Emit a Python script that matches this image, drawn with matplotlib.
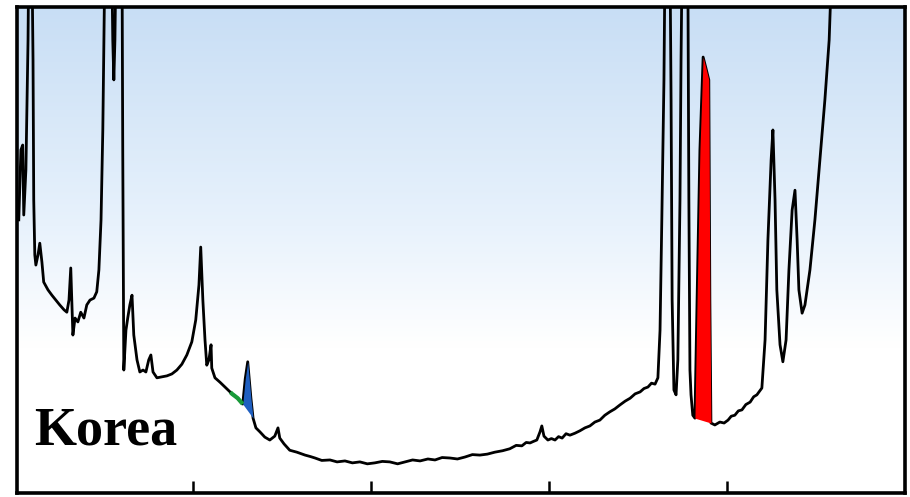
import numpy as np
import matplotlib
matplotlib.use("Agg")
import matplotlib.pyplot as plt
from matplotlib.colors import LinearSegmentedColormap

# Retention time (min) and detector signal (relative units, clipped at the top)
time_min = [
    0.11, 0.17, 0.22, 0.25, 0.31, 0.37, 0.39, 0.48, 0.51, 0.53, 0.56, 0.59, 0.65, 0.70,
    0.76, 0.81, 0.93, 1.04, 1.15, 1.26, 1.38, 1.46, 1.52, 1.57, 1.60, 1.63, 1.69, 1.77,
    1.85, 1.94, 2.02, 2.11, 2.22, 2.30, 2.36, 2.42, 2.47, 2.50, 2.53, 2.72, 2.75, 2.78,
    2.81, 2.84, 3.01, 3.03, 3.06, 3.12, 3.17, 3.23, 3.29, 3.34, 3.43, 3.51, 3.60, 3.68,
    3.76, 3.82, 3.88, 3.99, 4.13, 4.27, 4.41, 4.55, 4.69, 4.83, 4.97, 5.08, 5.17, 5.22,
    5.28, 5.34, 5.39, 5.45, 5.51, 5.53, 5.62, 5.76, 5.93, 6.10, 6.26, 6.40, 6.47, 6.54,
    6.63, 6.69, 6.77, 6.88, 7.02, 7.16, 7.30, 7.39, 7.44, 7.56, 7.72, 7.92, 8.15, 8.30,
    8.43, 8.62, 8.85, 9.05, 9.27, 9.48, 9.69, 9.90, 10.11, 10.32, 10.53, 10.75, 10.96,
    11.17, 11.38, 11.60, 11.80, 12.00, 12.22, 12.43, 12.64, 12.85, 13.06, 13.27, 13.48,
    13.70, 13.90, 14.08, 14.24, 14.36, 14.47, 14.56, 14.66, 14.75, 14.80, 14.86, 14.97,
    15.07, 15.17, 15.27, 15.37, 15.48, 15.59, 15.73, 15.87, 16.01, 16.15, 16.29, 16.43,
    16.57, 16.71, 16.85, 16.99, 17.14, 17.28, 17.42, 17.56, 17.67, 17.78, 17.88, 17.98,
    18.06, 18.12, 18.17, 18.23,
    18.26, 18.40, 18.43, 18.46, 18.51, 18.57, 18.62, 18.68, 18.71, 18.74, 18.90, 18.93,
    18.96, 18.99, 19.04, 19.10, 19.16, 19.24, 19.33, 19.41, 19.49, 19.52, 19.55, 19.66,
    19.80, 19.92, 20.03, 20.12, 20.22, 20.32, 20.42, 20.53, 20.65, 20.75, 20.84, 20.98,
    21.07, 21.15, 21.24, 21.29, 21.35,
    21.40, 21.49, 21.57, 21.66, 21.74, 21.83, 21.91, 21.97, 22.02, 22.11, 22.19, 22.33,
    22.47, 22.61, 22.75, 22.87, 22.95,
]
signal = [
    56.2, 70.6, 71.6, 57.2, 66.5, 93.2, 110, 110, 89.1, 60.3, 49.0, 46.9, 49.0, 51.4,
    47.5, 43.4, 41.8, 40.7, 39.7, 38.7, 37.7, 37.2, 39.7, 46.3, 39.7, 32.5, 36.0, 35.2,
    37.2, 36.0, 38.7, 39.7, 40.1, 41.4, 45.9, 56.2, 74.7, 93.2, 110, 110, 93.2, 85.0,
    93.2, 110, 110, 70.6, 25.3, 33.5, 36.0, 38.7, 40.7, 32.5, 27.4, 24.9, 25.3, 24.9,
    27.4, 28.4, 24.9, 23.7, 23.9, 24.1, 24.5, 25.3, 26.5, 28.4, 31.1, 35.6, 42.8, 50.6,
    39.7, 31.5, 26.3, 27.4, 30.5, 25.7, 23.7, 22.8, 21.6, 20.4, 19.5, 18.3, 23.5, 27.0,
    19.5, 15.4, 13.4, 12.6, 11.5, 10.9, 11.7, 13.4, 11.3, 10.1, 8.8, 8.4, 7.8, 7.5,
    7.2, 6.7, 6.8, 6.4, 6.6, 6.2, 6.4, 6.0, 6.2, 6.5, 6.4, 6.0, 6.4,
    6.8, 6.6, 7.0, 6.8, 7.3, 7.2, 7.0, 7.4, 7.9, 7.8, 8.0, 8.4,
    8.7, 9.1, 9.8, 9.7, 10.4, 10.3, 10.6, 10.9, 12.6, 13.8, 11.7, 10.9,
    11.2, 10.9, 11.6, 11.3, 12.2, 11.9, 12.3, 12.8, 13.4, 13.8, 14.6, 15.0,
    16.0, 16.7, 17.3, 18.1, 18.9, 19.5, 20.4, 20.8, 21.5, 21.8, 22.6, 22.4,
    23.7, 33.5, 56.2, 85.0,
    110, 110, 80.9, 39.7, 21.2, 20.2, 27.4, 60.3, 89.1, 110, 110, 60.3,
    25.3, 20.2, 16.0, 15.4, 39.7, 70.6, 89.7, 87.4, 85.0, 39.7, 14.4, 14.0,
    14.6, 14.4, 15.0, 15.8, 16.0, 16.9, 17.1, 18.2, 18.7, 19.8, 20.2, 21.6,
    31.5, 52.1, 68.5, 74.7, 60.3,
    41.8, 30.5, 27.0, 31.5, 45.9, 58.2, 62.3, 52.1, 41.8, 37.0, 38.7, 45.9,
    56.2, 68.5, 80.9, 93.2, 110,
]

# Integrated peaks: (start, end) times and baseline levels at both ends
green_span = (6.05, 6.40)
blue_span = (6.40, 6.69)
blue_base = (18.3, 15.4)
red_span = (19.10, 19.55)
red_base = (15.4, 14.4)

sample_label = "Korea"
tick_times = [5, 10, 15, 20]

t = np.asarray(time_min)
s = np.asarray(signal)

fig = plt.figure(figsize=(9.10, 4.97), dpi=100)
ax = fig.add_axes([17 / 910, 4 / 497, 888 / 910, 486 / 497])
x0, x1 = 0.06, 25.0
y0, y1 = 0.0, 100.0
ax.set_xlim(x0, x1)
ax.set_ylim(y0, y1)

# Sky-blue to white background gradient
grad_cmap = LinearSegmentedColormap.from_list(
    "bg", [(0.0, "#ffffff"), (0.30, "#ffffff"), (0.55, "#e8f2fc"), (1.0, "#c8def5")]
)
grad = np.linspace(0, 1, 256).reshape(-1, 1)
ax.imshow(grad, cmap=grad_cmap, origin="lower", aspect="auto",
          extent=[x0, x1, y0, y1], zorder=0)

# Chromatogram trace
ax.plot(t, s, color="black", lw=2.0, zorder=3, solid_joinstyle="round")

def span_fill(span, base, color):
    tt = np.linspace(span[0], span[1], 80)
    ss = np.interp(tt, t, s)
    bb = np.interp(tt, span, base)
    ax.fill_between(tt, bb, ss, color=color, lw=0, zorder=4)

span_fill(blue_span, blue_base, "#1f5fc0")
span_fill(red_span, red_base, "#ff0000")

gt = np.linspace(green_span[0], green_span[1], 30)
ax.plot(gt, np.interp(gt, t, s), color="#1a9a3a", lw=3.0, zorder=4,
        solid_capstyle="butt")

ax.text(0.55, 10.0, sample_label, fontsize=39, fontweight="bold",
        family=["Liberation Serif", "DejaVu Serif"], color="black",
        ha="left", va="baseline", zorder=5)

ax.set_xticks(tick_times)
ax.set_xticklabels([])
ax.set_yticks([])
ax.tick_params(axis="x", direction="in", length=8.5, width=1.8, color="black")
for sp in ax.spines.values():
    sp.set_linewidth(2.6)
    sp.set_color("black")

fig.savefig("out.png", dpi=100)
